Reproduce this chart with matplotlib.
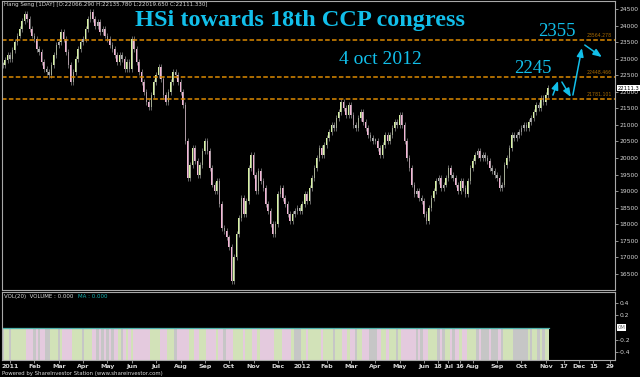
import numpy as np
import matplotlib
matplotlib.use("Agg")
import matplotlib.pyplot as plt

# Hang Seng closes, ten samples a month (~every 2 trading days)
hsi_dec_2010 = [22800, 22950, 23100]
hsi_2011 = [
    23000, 23250, 23500, 23700, 23900, 24150, 24350, 24200, 23900, 23700,  # Jan
    23600, 23300, 23200, 22900, 22700, 22600, 22500, 22800, 23100, 23400,  # Feb
    23500, 23800, 23600, 23200, 22800, 22300, 22600, 23000, 23300, 23500,  # Mar
    23600, 23900, 24200, 24400, 24200, 24000, 24100, 23800, 23900, 23700,  # Apr
    23600, 23400, 23300, 23100, 22900, 23100, 23000, 22700, 22900, 22700,  # May
    23600, 23300, 22900, 22600, 22300, 22000, 21700, 21550, 21900, 22300,  # Jun
    22500, 22750, 22400, 21900, 21700, 22000, 22300, 22600, 22500, 22300,  # Jul
    22000, 21600, 20500, 19400, 19800, 20300, 19900, 19500, 19800, 20200,  # Aug
    20500, 20200, 19700, 19200, 19000, 19300, 18600, 17900, 17800, 17600,  # Sep
    17300, 16300, 17000, 17700, 18200, 18800, 18300, 18700, 19700, 20100,  # Oct
    19500, 19000, 19600, 19300, 19100, 18600, 18400, 18000, 17700, 18000,  # Nov
    18900, 19100, 18800, 18600, 18300, 18100, 18300, 18400, 18500, 18400,  # Dec
]
hsi_2012 = [
    18600, 18900, 18700, 19100, 19400, 19700, 20000, 20300, 20100, 20400,  # Jan
    20600, 20800, 21000, 20900, 21200, 21400, 21700, 21500, 21300, 21600,  # Feb
    21300, 21000, 20900, 21200, 21400, 21100, 20900, 20700, 20600, 20500,  # Mar
    20500, 20300, 20100, 20400, 20700, 20500, 20700, 20900, 21100, 21000,  # Apr
    21300, 21000, 20500, 20000, 19700, 19200, 18900, 19000, 18800, 18700,  # May
    18300, 18100, 18500, 18800, 19000, 19300, 19400, 19100, 19200, 19400,  # Jun
    19700, 19500, 19400, 19200, 19000, 19300, 19100, 18900, 19300, 19700,  # Jul
    19900, 20100, 20200, 20000, 20100, 20000, 19900, 19700, 19600, 19500,  # Aug
    19400, 19100, 19200, 19800, 20000, 20300, 20700, 20600, 20700, 20800,  # Sep
    20900, 21000, 20900, 21100, 21200, 21400, 21600, 21500, 21800, 21700,  # Oct
    21900, 22111,                                                          # Nov
]
volume = 0.0

levels = [23564.278, 22448.466, 21781.101]
last_close = 22111.3

# projected moves drawn by hand: (month from, price from, month to, price to)
projection = [
    (22.29, 21900, 22.50, 22325),
    (22.66, 22295, 23.03, 21841),
    (23.11, 21902, 23.48, 23322),
    (23.60, 23412, 24.30, 23050),
]

tick_pos = list(range(23)) + [17.57, 18.47, 22.74, 23.36, 23.95, 24.63]
tick_labels = ["2011", "Feb", "Mar", "Apr", "May", "Jun", "Jul", "Aug", "Sep",
               "Oct", "Nov", "Dec", "2012", "Feb", "Mar", "Apr", "May", "Jun",
               "Jul", "Aug", "Sep", "Oct", "Nov", "18", "16", "17", "Dec",
               "15", "29"]
price_ticks = list(range(16500, 25000, 500))
vol_ticks = [0.4, 0.2, -0.2, -0.4]

SPINE = "#a8a8a8"
TEXT = "#d8d8d8"
CYAN = "#12bfea"
ORANGE = "#dc8a00"
UP, DOWN, FLAT = "#d6f2a2", "#f4b4d6", "#b4b4b4"
UP_V, DOWN_V, FLAT_V = "#d2e2b8", "#e4cade", "#c6c6c6"
SERIF = ["Liberation Serif", "DejaVu Serif"]


def main():
    closes = np.array(hsi_dec_2010 + hsi_2011 + hsi_2012, dtype=float)
    start = -len(hsi_dec_2010) / 10
    xs = start + np.arange(len(closes)) / 10

    fig = plt.figure(figsize=(6.4, 3.77), dpi=100, facecolor="black")
    ax = fig.add_axes([2 / 640, 1 - 290 / 377, 613 / 640, 289 / 377])
    axv = fig.add_axes([2 / 640, 1 - 360 / 377, 613 / 640, 68 / 377])

    draw_price(ax, xs, closes)
    draw_volume(axv, xs, closes)

    fig.text(0.003, 0.004, "Powered by ShareInvestor Station (www.shareinvestor.com)",
             color=TEXT, fontsize=3.9)
    fig.savefig("out.png", dpi=100, facecolor="black")


def candle_kind(closes):
    opens = np.concatenate([[closes[0]], closes[:-1]])
    diff = closes - opens
    kind = np.where(diff > 120, 1, np.where(diff < -120, -1, 0))
    return opens, diff, kind


def style_axes(ax):
    ax.set_facecolor("black")
    for s in ax.spines.values():
        s.set_color(SPINE)
        s.set_linewidth(0.8)
    ax.yaxis.tick_right()
    ax.tick_params(axis="y", colors=SPINE, labelcolor=TEXT, labelsize=4.3,
                   length=2, width=0.6, pad=1)
    ax.set_xlim(-0.33, 24.84)


def draw_price(ax, xs, closes):
    style_axes(ax)
    opens, diff, kind = candle_kind(closes)
    colors = np.where(kind == 1, UP, np.where(kind == -1, DOWN, FLAT))
    lo = np.minimum(opens, closes)
    hi = np.maximum(opens, closes)
    # thin grey wicks behind the bodies
    ax.vlines(xs, lo - 90, hi + 90, color="#8c8c8c", lw=0.5)
    ax.bar(xs, np.maximum(hi - lo, 80), bottom=lo,
           width=0.065, color=colors, linewidth=0)
    ax.set_ylim(16014, 24742)
    ax.set_yticks(price_ticks)
    ax.set_xticks([])

    for lv in levels:
        ax.axhline(lv, color=ORANGE, lw=1.1, ls=(0, (3, 1.5)))
        ax.text(0.995, lv + 60, f"{lv:.3f}", transform=ax.get_yaxis_transform(),
                ha="right", va="bottom", color="#a86a00", fontsize=3.3)

    ax.text(1.004, last_close, f"{last_close:.1f}", transform=ax.get_yaxis_transform(),
            ha="left", va="center", fontsize=3.8, color="black", clip_on=False,
            bbox=dict(facecolor="white", edgecolor="none", pad=0.5))

    for x0, p0, x1, p1 in projection:
        ax.annotate("", xy=(x1, p1), xytext=(x0, p0),
                    arrowprops=dict(arrowstyle="-|>,head_length=0.5,head_width=0.2",
                                    color=CYAN, lw=1.1, shrinkA=0, shrinkB=0))

    ax.text(0.003, 0.998, "Hang Seng [1DAY] [O:22066.290 H:22135.780 L:22019.650 C:22111.330]",
            transform=ax.transAxes, ha="left", va="top", color=TEXT, fontsize=4)
    ax.text(0.486, 0.934, "HSi towards 18th CCP congress", transform=ax.transAxes,
            ha="center", va="center", color=CYAN, fontsize=17.5,
            fontweight="bold", family=SERIF)
    ax.text(0.617, 0.796, "4 oct 2012", transform=ax.transAxes, ha="center",
            va="center", color=CYAN, fontsize=14, family=SERIF)
    ax.text(0.866, 0.768, "2245", transform=ax.transAxes, ha="center",
            va="center", color=CYAN, fontsize=13.5, family=SERIF)
    ax.text(0.905, 0.893, "2355", transform=ax.transAxes, ha="center",
            va="center", color=CYAN, fontsize=13.5, family=SERIF)


def draw_volume(ax, xs, closes):
    style_axes(ax)
    _, _, kind = candle_kind(closes)
    colors = np.where(kind == 1, UP_V, np.where(kind == -1, DOWN_V, FLAT_V))
    ax.set_ylim(-0.53, 0.58)
    floor = ax.get_ylim()[0]
    vols = np.full(len(xs), volume)
    ax.bar(xs, vols - floor, bottom=floor, width=0.1, color=colors, linewidth=0)
    ax.plot([xs[0] - 0.05, xs[-1] + 0.05], [volume, volume], color="#4fb2ac", lw=0.9)

    ax.set_yticks(vol_ticks)
    ax.set_yticklabels([f"{v:.1f}" for v in vol_ticks])
    ax.text(1.004, 0, "0M", transform=ax.get_yaxis_transform(), ha="left",
            va="center", fontsize=3.8, color="#666666", clip_on=False,
            bbox=dict(facecolor="white", edgecolor="none", pad=0.5))

    ax.set_xticks(tick_pos)
    ax.set_xticklabels(tick_labels)
    ax.tick_params(axis="x", colors=SPINE, labelcolor=TEXT, labelsize=4.5,
                   length=2, width=0.6, pad=1)
    for lab in ax.get_xticklabels():
        lab.set_fontweight("bold")

    ax.text(0.003, 0.97, "VOL(20)  VOLUME : 0.000", transform=ax.transAxes,
            ha="left", va="top", color=TEXT, fontsize=4)
    ax.text(0.124, 0.97, "MA : 0.000", transform=ax.transAxes,
            ha="left", va="top", color="#18b4b4", fontsize=4)


main()
